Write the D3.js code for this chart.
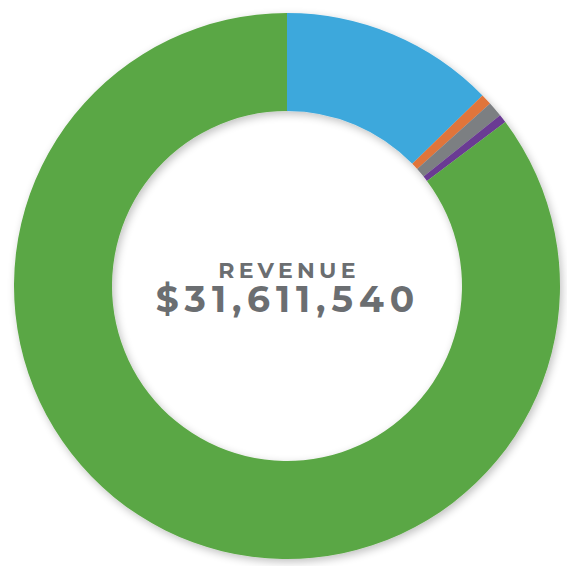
<!DOCTYPE html>
<html>
<head>
<meta charset="utf-8">
<script src="https://cdn.jsdelivr.net/npm/d3@7"></script>
<style>
  body { margin: 0; background: #fff; }
  text { font-family: Montserrat, "DejaVu Sans", sans-serif; font-weight: bold; fill: #6b6e71; }
</style>
</head>
<body>
<div id="chart"></div>
<script>
var width = 567, height = 566

var categories = ['Blue', 'Orange', 'Gray', 'Purple', 'Green']
var values = [4015000, 205000, 285000, 158000, 26948540]
var colors = ['#3ea8dc', '#e0743a', '#7c7f82', '#6a3b93', '#5aa744']
var title = 'REVENUE'
var total = '$31,611,540'

var cx = 287, cy = 286, outerR = 273, innerR = 175

var data = categories.map(function(d, i){ return {name: d, value: values[i], color: colors[i]} })

var svg = d3.select('#chart').append('svg')
    .attr('width', width)
    .attr('height', height)

var defs = svg.append('defs')
var f = defs.append('filter').attr('id', 'shadow')
    .attr('x', '-10%').attr('y', '-10%').attr('width', '120%').attr('height', '120%')
f.append('feGaussianBlur').attr('in', 'SourceAlpha').attr('stdDeviation', 4)
f.append('feOffset').attr('dx', 2).attr('dy', 3).attr('result', 'b')
f.append('feComponentTransfer').append('feFuncA').attr('type', 'linear').attr('slope', 0.25)
var m = f.append('feMerge')
m.append('feMergeNode')
m.append('feMergeNode').attr('in', 'SourceGraphic')

var pie = d3.pie().sort(null).value(function(d){ return d.value })
var arc = d3.arc().innerRadius(innerR).outerRadius(outerR)

var g = svg.append('g')
    .attr('transform', 'translate(' + cx + ',' + cy + ')')
    .attr('filter', 'url(#shadow)')

g.selectAll('path').data(pie(data)).enter().append('path')
    .attr('d', arc)
    .attr('fill', function(d){ return d.data.color })

// letter-spacing trails the last glyph, so nudge x right by half of it
svg.append('text')
    .attr('x', cx + 2).attr('y', 278)
    .attr('text-anchor', 'middle')
    .attr('font-size', 22)
    .attr('letter-spacing', 4.3)
    .text(title)

svg.append('text')
    .attr('x', cx + 1).attr('y', 312)
    .attr('text-anchor', 'middle')
    .attr('font-size', 36)
    .attr('letter-spacing', 6)
    .text(total)
</script>
</body>
</html>
